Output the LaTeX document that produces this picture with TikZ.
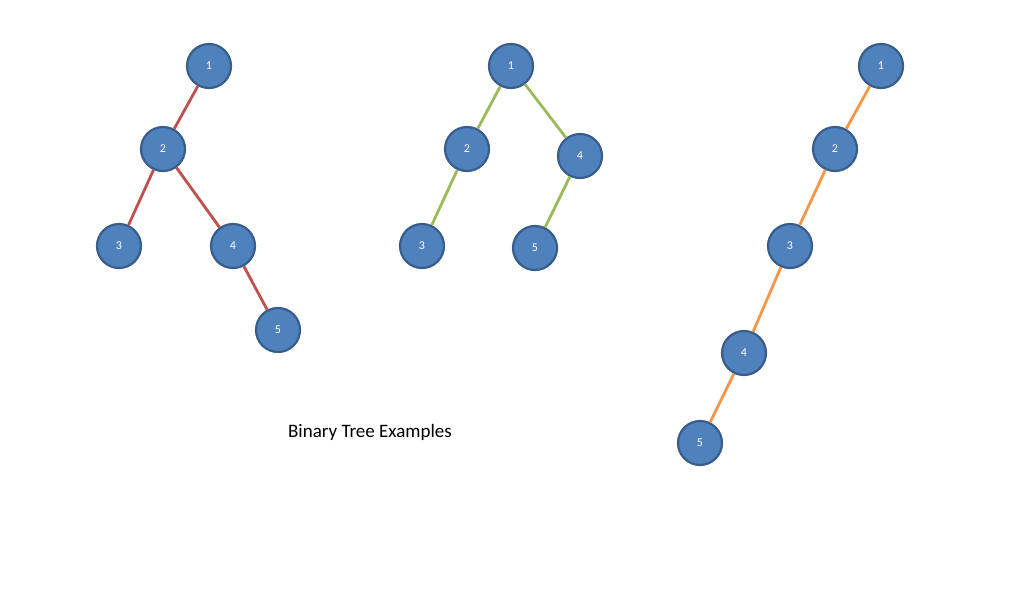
\documentclass[tikz,border=0pt]{standalone}
\usepackage{fontspec}
\setmainfont{Carlito}
\definecolor{nfill}{HTML}{4F81BD}
\definecolor{nline}{HTML}{385D8A}
\definecolor{ered}{HTML}{C0504D}
\definecolor{egreen}{HTML}{9BBB59}
\definecolor{eorange}{HTML}{F79646}
\begin{document}
\begin{tikzpicture}[x=1pt,y=-1pt,
  tn/.style={circle,fill=nfill,draw=nline,line width=2.2pt,minimum size=44pt,inner sep=0pt,text=white,font=\fontsize{12}{14}\selectfont},
  er/.style={ered,line width=2.8pt},
  eg/.style={egreen,line width=2.8pt},
  eo/.style={eorange,line width=2.8pt}]
\useasboundingbox (0,0) rectangle (1024,600);
% tree 1
\node[tn] (a1) at (209,66) {1};
\node[tn] (a2) at (163,149) {2};
\node[tn] (a3) at (119,246) {3};
\node[tn] (a4) at (233,246) {4};
\node[tn] (a5) at (278,330) {5};
% tree 2
\node[tn] (b1) at (511,66) {1};
\node[tn] (b2) at (467,149) {2};
\node[tn] (b4) at (580,156) {4};
\node[tn] (b3) at (422,246) {3};
\node[tn] (b5) at (535,248) {5};
% tree 3
\node[tn] (c1) at (881,66) {1};
\node[tn] (c2) at (835,149) {2};
\node[tn] (c3) at (790,246) {3};
\node[tn] (c4) at (744,353) {4};
\node[tn] (c5) at (700,443) {5};
\begin{scope}[on background layer/.style={}]
\end{scope}
\draw[er] (a1) -- (a2);
\draw[er] (a2) -- (a3);
\draw[er] (a2) -- (a4);
\draw[er] (a4) -- (a5);
\draw[eg] (b1) -- (b2);
\draw[eg] (b1) -- (b4);
\draw[eg] (b2) -- (b3);
\draw[eg] (b4) -- (b5);
\draw[eo] (c1) -- (c2);
\draw[eo] (c2) -- (c3);
\draw[eo] (c3) -- (c4);
\draw[eo] (c4) -- (c5);
\node[font=\fontsize{19}{22}\selectfont] (title) at (370,432) {Binary Tree Examples};
\end{tikzpicture}
\end{document}
